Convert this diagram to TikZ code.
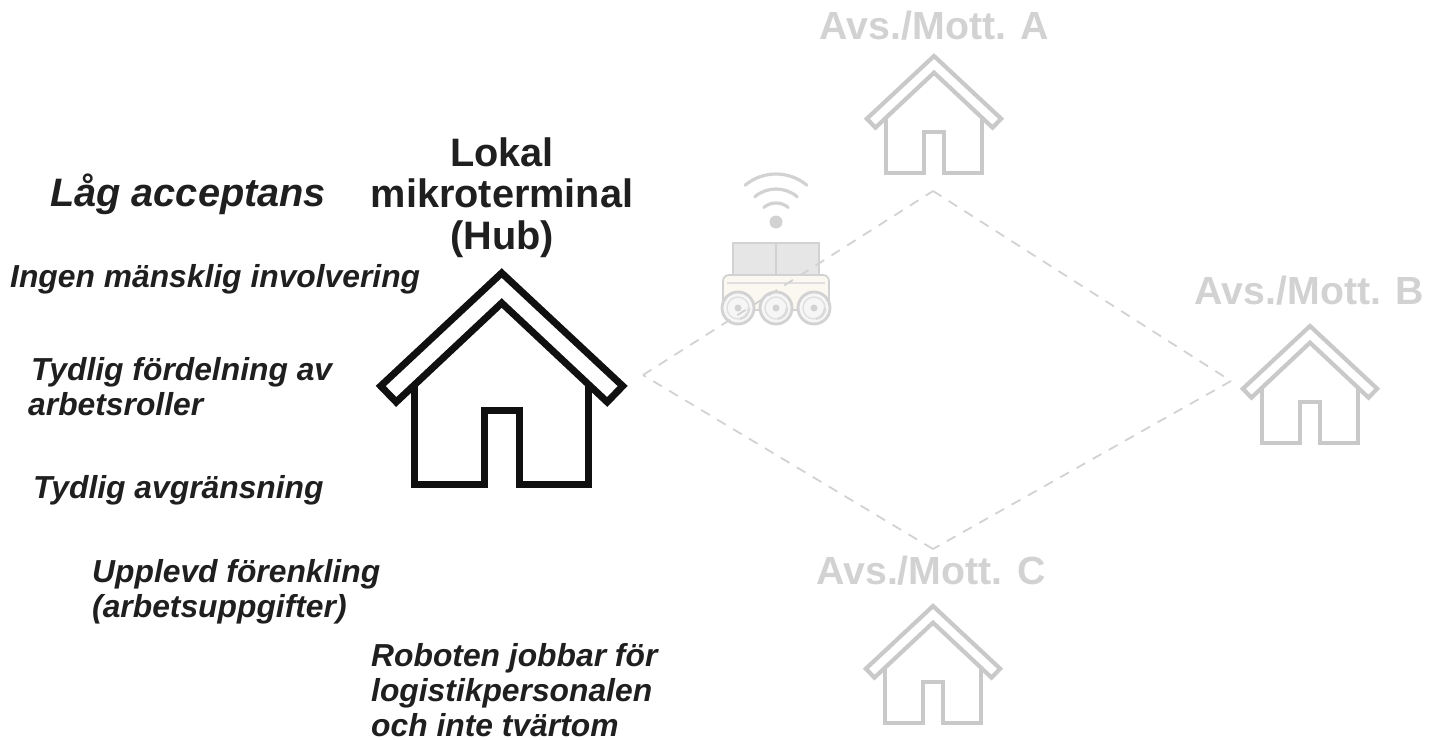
\documentclass[tikz,border=0pt]{standalone}
\usepackage{fontspec}
\setmainfont{Liberation Sans}
\definecolor{faint}{HTML}{C9C9C9}
\definecolor{labelc}{HTML}{D2D2D2}
\definecolor{dashc}{HTML}{D2D2D2}
\definecolor{robline}{HTML}{D2D2D2}
\definecolor{robbox}{HTML}{E6E6E6}
\definecolor{robbody}{HTML}{FBF7F1}
\definecolor{robwheel}{HTML}{F6F6F6}
\definecolor{txt}{HTML}{1F1F1F}
\definecolor{hubc}{HTML}{101010}
\tikzset{
  x=1pt,y=-1pt,
  houseshape/.pic={
    \draw[line join=miter,miter limit=10] (-121,113) -- (0,0) -- (121,113) -- (105.5,129) -- (0,30) -- (-105.5,129) -- cycle;
    \draw[line join=miter,miter limit=10] (-87,111.6) -- (-87,211.5) -- (-17.7,211.5) -- (-17.7,137) -- (17.5,137) -- (17.5,211.5) -- (87,211.5) -- (87,111.6);
  },
  hubhouse/.style={draw=hubc,line width=7pt},
  farhouse/.style={draw=faint,line width=4.2pt},
  farlabel/.style={text=labelc,font=\fontsize{39.3}{44}\selectfont\bfseries,inner sep=0pt},
  hublabel/.style={text=txt,font=\fontsize{39.7}{41.7}\selectfont\bfseries,align=center,inner sep=0pt},
  note/.style={text=txt,font=\fontsize{31.8}{35}\selectfont\bfseries\itshape,align=left,inner sep=0pt,anchor=west},
  route/.style={draw=dashc,line width=1.8pt,dash pattern=on 10pt off 8.6pt},
  wifi/.style={draw=robline,line width=3.2pt,line cap=round},
  wheel/.style={circle,draw=robline,fill=robwheel,line width=2.8pt,minimum size=32pt,inner sep=0pt},
  hubwheel/.style={circle,draw=robline!70,line width=1.4pt,minimum size=22pt,inner sep=0pt},
  axle/.style={circle,fill=robline,minimum size=7pt,inner sep=0pt},
}
\begin{document}
\begin{tikzpicture}
\useasboundingbox (0,0) rectangle (1429,739);
% robot
\node[axle,minimum size=13pt] (signal) at (776,222) {};
\foreach \r in {19,33,48}{
  \draw[wifi] ({776+\r*cos(230)},{222+\r*sin(230)}) arc[start angle=230,end angle=310,radius=\r];
}
\draw[draw=robline,fill=robbox,line width=1.6pt] (733,243) rectangle (776,275);
\draw[draw=robline,fill=robbox,line width=1.6pt] (776,243) rectangle (819,275);
\draw[draw=robline,fill=robbody,line width=1.8pt,rounded corners=6pt] (723,275) rectangle (829,310);
\draw[draw=robline!70,line width=1.2pt] (727,283) -- (825,283);
\foreach \n/\c in {a/738,b/776,c/814}{
  \node[wheel] (wheel\n) at (\c,308) {};
  \node[hubwheel] at (wheel\n) {};
  \draw[draw=robline!80,line width=2.6pt] ({\c+11},308) arc[start angle=0,end angle=80,radius=11];
  \node[axle] at (wheel\n) {};
}
% routes
\coordinate (hubport) at (643,375);
\coordinate (portA) at (933,191);
\coordinate (portB) at (1231,381);
\coordinate (portC) at (933,549);
\draw[route] (hubport) -- (portA);
\draw[route] (portA) -- (portB);
\draw[route] (portB) -- (portC);
\draw[route] (portC) -- (hubport);
% houses
\pic[hubhouse] at (501.7,273) {houseshape};
\pic[farhouse,scale=0.555] at (934,56) {houseshape};
\pic[farhouse,scale=0.555] at (1310,326) {houseshape};
\pic[farhouse,scale=0.555] at (933,606) {houseshape};
% labels
\node[farlabel] (labA) at (934.5,26) {Avs./Mott. A};
\node[farlabel] (labB) at (1309.5,290.5) {Avs./Mott. B};
\node[farlabel] (labC) at (931,570.5) {Avs./Mott. C};
\node[hublabel] (hub) at (502,197.5) {Lokal\\mikroterminal\\(Hub)};
\node[note,font=\fontsize{39.7}{44}\selectfont\bfseries\itshape] (accept) at (50,194) {Låg acceptans};
\node[note] (n1) at (10,279) {Ingen mänsklig involvering};
\node[note] (n2) at (31,387) {Tydlig fördelning av\\\hspace*{-3pt}arbetsroller};
\node[note] (n3) at (33,490) {Tydlig avgränsning};
\node[note] (n4) at (92,592) {Upplevd förenkling\\(arbetsuppgifter)};
\node[note] (n5) at (371,690.5) {Roboten jobbar för\\logistikpersonalen\\och inte tvärtom};
\end{tikzpicture}
\end{document}
